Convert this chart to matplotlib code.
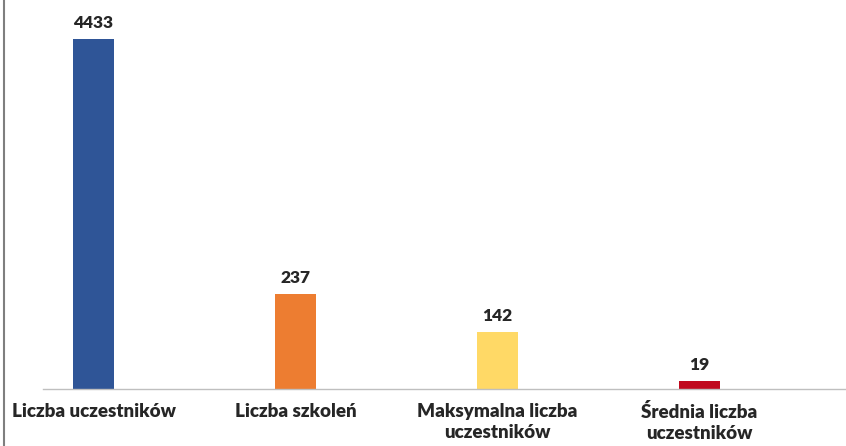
import matplotlib.pyplot as plt
from matplotlib.lines import Line2D

# dane z wykresu
kategorie = ["Liczba uczestników", "Liczba szkoleń", "Maksymalna liczba\nuczestników", "Średnia liczba\nuczestników"]
wartosci = [4433, 237, 142, 19]
kolory = ["#2F5597", "#ED7D31", "#FFD966", "#C00A1E"]

plt.rcParams['font.family'] = ['Lato', 'DejaVu Sans']

fig = plt.figure(figsize=(8.46, 4.46), dpi=100)
ax = fig.add_axes([43 / 846, (446 - 389) / 446, 1 - 43 / 846, 350 / 446])

# skala symlog - małe wartości widoczne obok dużej
ax.set_yscale('symlog', linthresh=240, linscale=0.43)
ax.set_ylim(0, max(wartosci))
ax.set_xlim(-0.25, 3.725)

x = list(range(len(kategorie)))
bars = ax.bar(x, wartosci, width=0.2, color=kolory)

for b, v in zip(bars, wartosci):
    ax.annotate(str(v), (b.get_x() + b.get_width() / 2, v), xytext=(0, 6),
                textcoords='offset points', ha='center', va='bottom',
                fontsize=12.5, fontweight='heavy', color='#262626', annotation_clip=False)

ax.set_xticks(x)
ax.set_xticklabels(kategorie, fontsize=13.5, fontweight='heavy', color='#262626', linespacing=1.3)
ax.tick_params(axis='x', length=0, pad=10)
ax.set_yticks([])
ax.yaxis.set_minor_locator(plt.NullLocator())

for s in ['top', 'right', 'left']:
    ax.spines[s].set_visible(False)
ax.spines['bottom'].set_color('#BFBFBF')
ax.spines['bottom'].set_linewidth(1)

# lewa krawędź ramki
fig.add_artist(Line2D([3.5 / 846, 3.5 / 846], [0, 1], color='#7F7F7F', linewidth=1.5))

fig.savefig('out.png', dpi=100)
